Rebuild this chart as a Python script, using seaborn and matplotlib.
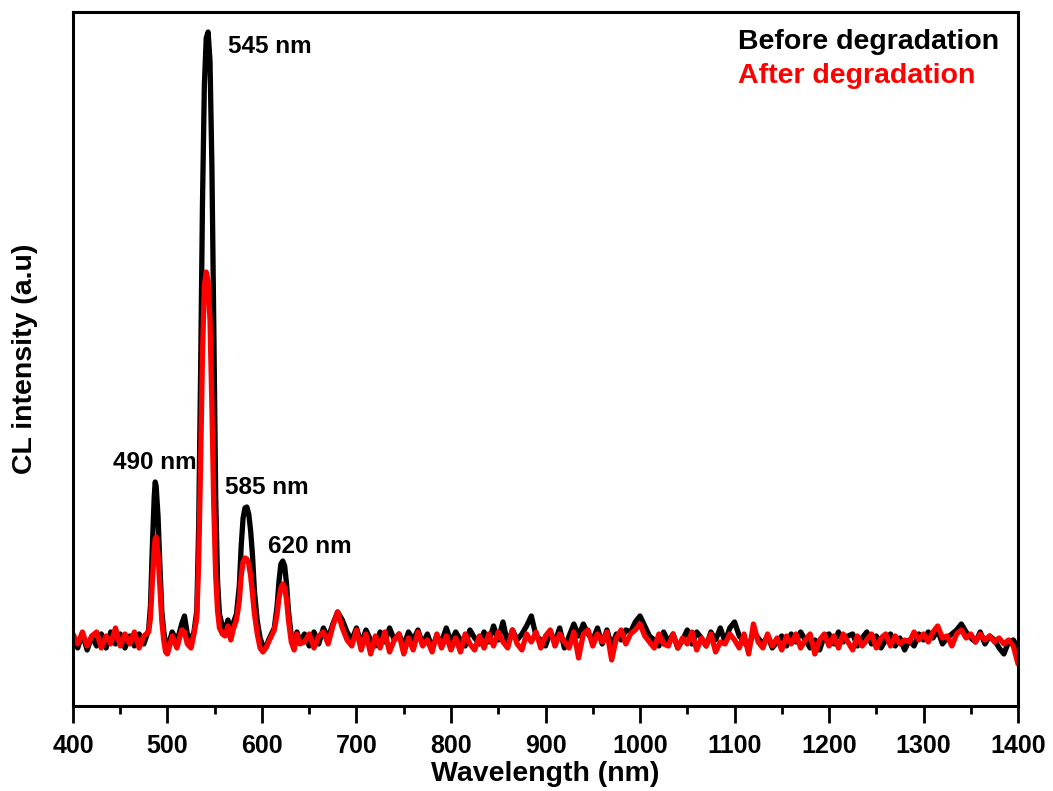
import numpy as np
import pandas as pd
import matplotlib
matplotlib.use('Agg')
import matplotlib.pyplot as plt
import seaborn as sns

# peak region (400-640 nm)
wl_peak = [400, 405, 410, 415, 420, 425, 430, 435, 440, 445, 450, 455, 460, 465, 470, 475, 480,
           482, 484, 486, 487, 488, 490, 492, 494, 496, 498, 500, 505, 510, 515, 518, 521, 525, 528,
           531, 533, 535, 537, 539, 541, 543, 545, 547, 549, 551, 553, 555, 558, 561, 564, 567, 570,
           573, 576, 578, 580, 582, 584, 586, 588, 590, 592, 595, 598, 601, 604, 607, 610, 613, 616,
           618, 620, 622, 624, 626, 628, 631, 634, 637, 640]

before_peak = [68, 58, 72, 56, 70, 60, 72, 58, 74, 62, 72, 58, 70, 60, 72, 62, 76,
               100, 160, 210, 224, 220, 190, 140, 95, 75, 62, 58, 74, 64, 82, 90, 72, 66, 74,
               95, 180, 330, 500, 620, 668, 674, 645, 540, 380, 210, 125, 92, 80, 76, 86, 76, 84,
               92, 120, 160, 188, 198, 199, 192, 175, 150, 115, 85, 68, 60, 58, 66, 72, 78, 100,
               125, 142, 145, 140, 122, 95, 70, 60, 74, 64]

after_peak = [72, 62, 74, 60, 70, 74, 58, 70, 62, 78, 60, 72, 62, 74, 58, 70, 74,
              88, 125, 158, 167, 169, 152, 118, 85, 66, 54, 52, 70, 58, 76, 74, 62, 58, 72,
              88, 145, 240, 350, 420, 434, 425, 385, 300, 200, 130, 95, 78, 72, 70, 80, 66, 78,
              86, 105, 130, 144, 148, 147, 142, 130, 112, 92, 72, 58, 54, 58, 64, 70, 76, 92,
              108, 118, 122, 119, 106, 86, 64, 56, 72, 62]

# baseline, 645-1400 nm every 5 nm
wl_base = list(range(645, 1405, 5))

before_base = [72, 60, 74, 62, 78, 68, 82, 94, 86, 74, 66, 78,
               62, 76, 66, 60, 74, 64, 78, 66, 72, 60, 74, 66, 76, 62, 72, 58, 70, 64, 78, 64,
               74, 66, 60, 76, 68, 62, 74, 64, 80, 66, 84, 62, 76, 66, 72, 80, 90, 70, 66, 60,
               74, 64, 78, 58, 70, 82, 70, 82, 72, 66, 78, 62, 76, 60, 72, 66, 76, 74, 84, 90,
               80, 70, 66, 60, 74, 64, 72, 58, 66, 76, 62, 74, 68, 60, 74, 66, 78, 64, 78, 84,
               70, 64, 58, 74, 68, 62, 70, 58, 64, 70, 60, 72, 64, 74, 66, 58, 66, 56, 70, 72,
               62, 74, 64, 70, 72, 60, 68, 74, 62, 70, 58, 66, 72, 60, 68, 56, 66, 60, 72, 66,
               74, 68, 76, 62, 68, 72, 76, 82, 74, 68, 64, 74, 62, 70, 66, 58, 52, 64, 66, 58]

after_base = [64, 72, 58, 70, 74, 62, 80, 94, 78, 66, 60, 76,
              56, 72, 52, 70, 58, 74, 54, 66, 72, 52, 68, 56, 74, 60, 66, 54, 72, 58, 70, 56,
              68, 54, 72, 62, 56, 70, 58, 72, 60, 74, 64, 58, 76, 62, 56, 72, 64, 74, 58, 70,
              76, 60, 72, 64, 58, 74, 48, 72, 76, 60, 72, 64, 74, 46, 68, 76, 62, 72, 76, 82,
              70, 64, 58, 72, 62, 60, 72, 58, 68, 62, 74, 56, 68, 60, 72, 54, 64, 62, 72, 66,
              58, 72, 52, 82, 64, 58, 72, 60, 68, 56, 70, 62, 72, 58, 66, 72, 52, 66, 72, 60,
              70, 58, 72, 64, 56, 70, 60, 66, 72, 58, 68, 72, 60, 70, 62, 66, 64, 74, 66, 72,
              64, 74, 80, 68, 70, 60, 72, 76, 68, 72, 64, 72, 66, 70, 64, 68, 62, 66, 60, 42]

peak_labels = ['490 nm', '545 nm', '585 nm', '620 nm']
label_x = [442, 564, 561, 606]
label_y = [243, 660, 218, 159]

wl = np.array(wl_peak + wl_base)
df = pd.DataFrame({
    'wl': np.concatenate([wl, wl]),
    'cl': before_peak + before_base + after_peak + after_base,
    'state': ['Before degradation'] * len(wl) + ['After degradation'] * len(wl),
})

sns.set_style('ticks')
plt.rcParams['font.family'] = ['Liberation Sans', 'DejaVu Sans']
plt.rcParams['font.weight'] = 'bold'
plt.rcParams['text.color'] = 'black'
plt.rcParams['axes.labelcolor'] = 'black'
plt.rcParams['xtick.color'] = 'black'
plt.rcParams['axes.edgecolor'] = 'black'

fig = plt.figure(figsize=(10.53, 7.91), dpi=100)
ax = fig.add_axes([0.0693, 0.1075, 0.8975, 0.8773])

sns.lineplot(data=df, x='wl', y='cl', hue='state', sort=False, estimator=None,
             palette={'Before degradation': 'black', 'After degradation': '#ff0000'},
             linewidth=3.8, legend=False, ax=ax)

ax.set_xlim(400, 1400)
ax.set_ylim(0, 694)
ax.set_xticks(range(400, 1401, 100))
ax.set_xticks(range(450, 1400, 100), minor=True)
ax.set_yticks([])
ax.tick_params(axis='x', which='major', direction='out', length=12, width=2, labelsize=18, pad=8)
ax.tick_params(axis='x', which='minor', direction='out', length=6, width=2)
for lab in ax.get_xticklabels():
    lab.set_fontweight('bold')
for s in ax.spines.values():
    s.set_linewidth(2.2)
    s.set_visible(True)

ax.set_xlabel('Wavelength (nm)', fontsize=20.5, fontweight='bold', labelpad=2)
ax.set_ylabel('CL intensity (a.u)', fontsize=20.5, fontweight='bold')
ax.yaxis.set_label_coords(-0.037, 0.5)

for t, x, y in zip(peak_labels, label_x, label_y):
    ax.text(x, y, t, fontsize=17.5, fontweight='bold', ha='left', va='center')

ax.text(0.704, 0.957, 'Before degradation', transform=ax.transAxes, fontsize=20.5,
        fontweight='bold', color='black', va='center')
ax.text(0.704, 0.908, 'After degradation', transform=ax.transAxes, fontsize=20.5,
        fontweight='bold', color='#ff0000', va='center')

fig.savefig('out.png', dpi=100)
